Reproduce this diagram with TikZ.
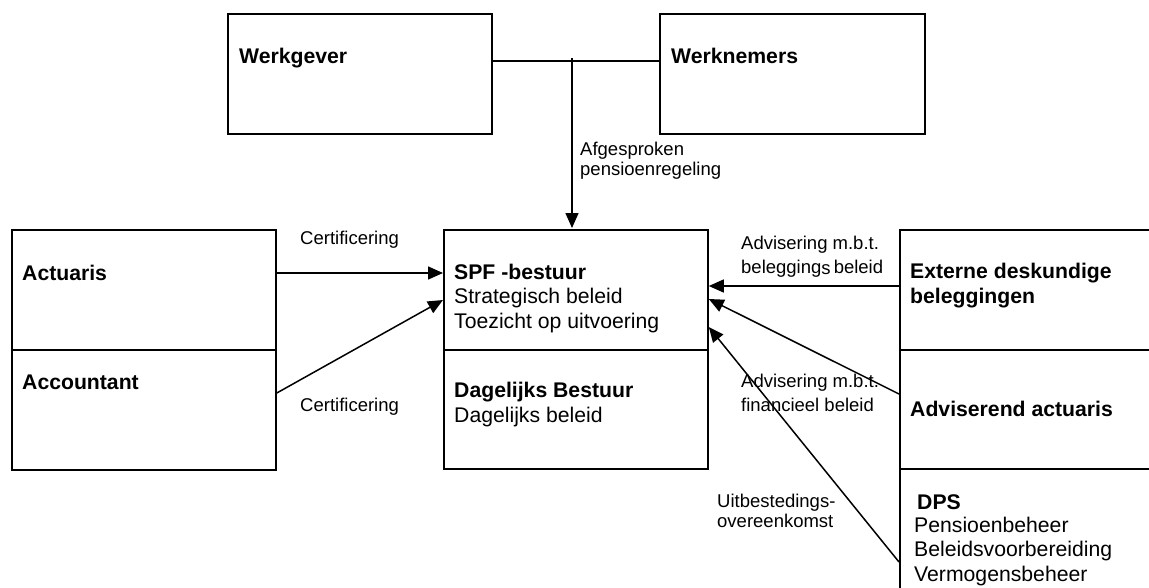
\documentclass[tikz,border=0pt]{standalone}
\usepackage{fontspec}
\setmainfont{Liberation Sans}
\usetikzlibrary{arrows.meta}
\begin{document}
\begin{tikzpicture}[x=1pt,y=-1pt,
  box/.style={draw,line width=1.8pt,inner sep=0pt,anchor=north west},
  txt/.style={anchor=base west,inner sep=0pt,font=\fontsize{21.2}{24.5}\selectfont,align=left},
  lbl/.style={anchor=base west,inner sep=0pt,font=\fontsize{18.5}{24}\selectfont,align=left},
  lbltight/.style={lbl,font=\fontsize{18.5}{20}\selectfont},
  conn/.style={line width=1.5pt},
  arr/.style={conn,-{Triangle[length=15pt,width=13pt]}}]
\useasboundingbox (0,0) rectangle (1149,587);
\clip (0,0) rectangle (1149,587);
% boxes
\node[box,minimum width=264pt,minimum height=120pt] (werkgever) at (227,13) {};
\node[box,minimum width=265pt,minimum height=120pt] (werknemers) at (659,13) {};
\node[box,minimum width=264pt,minimum height=120pt] (actuaris) at (11,229) {};
\node[box,minimum width=264pt,minimum height=120pt] (accountant) at (11,349) {};
\node[box,minimum width=264pt,minimum height=120pt] (spf) at (443,229) {};
\node[box,minimum width=264pt,minimum height=119pt] (db) at (443,349) {};
\node[box,minimum width=270pt,minimum height=120pt] (externe) at (899,229) {};
\node[box,minimum width=270pt,minimum height=119pt] (adviserend) at (899,349) {};
\node[box,minimum width=270pt,minimum height=140pt] (dps) at (899,468) {};
% box texts (multi-line nodes are placed at the baseline of their last line)
\node[txt] (t-werkgever) at (239,63) {\bfseries Werkgever};
\node[txt] (t-werknemers) at (671,63) {\bfseries Werknemers};
\node[txt] (t-actuaris) at (22,280) {\bfseries Actuaris};
\node[txt] (t-accountant) at (22,389) {\bfseries Accountant};
\node[txt] (t-spf) at (454,328) {{\bfseries SPF -bestuur}\\Strategisch beleid\\Toezicht op uitvoering};
\node[txt] (t-db) at (454,422) {{\bfseries Dagelijks Bestuur}\\Dagelijks beleid};
\node[txt] (t-externe) at (910,303) {\bfseries Externe deskundige\\\bfseries beleggingen};
\node[txt] (t-adviserend) at (910,416) {\bfseries Adviserend actuaris};
\node[txt] (t-dps) at (917,509) {\bfseries DPS};
\node[txt] (t-dpsbody) at (914,581) {Pensioenbeheer\\Beleidsvoorbereiding\\Vermogensbeheer};
% connectors
\coordinate (jn) at (572,61);
\draw[conn] (werkgever.east |- jn) -- (werknemers.west |- jn);
\draw[arr] ([yshift=3pt]jn) -- ([yshift=1pt]jn |- spf.north);
\draw[arr] (actuaris.east |- 0,273) -- (spf.west |- 0,273);
\draw[arr] (accountant.east |- 0,393) -- (spf.west |- 0,300);
\draw[arr] (externe.west |- 0,286) -- (spf.east |- 0,286);
\draw[arr] (adviserend.west |- 0,394) -- (spf.east |- 0,299);
\draw[arr] (dps.west |- 0,562) -- (spf.east |- 0,327);
% labels
\node[lbltight] (l-afg) at (580,175) {Afgesproken\\pensioenregeling};
\node[lbl] (l-cert1) at (300,244) {Certificering};
\node[lbl] (l-cert2) at (300,411) {Certificering};
\node[lbl] (l-adv1) at (741,273) {Advisering m.b.t.\\belegging\raisebox{-1.5pt}{s}\,beleid};
\node[lbl] (l-adv2) at (741,411) {Advisering m.b.t.\\financieel beleid};
\node[lbltight] (l-uitb) at (717,527) {Uitbestedings-\\overeenkomst};
\end{tikzpicture}
\end{document}
